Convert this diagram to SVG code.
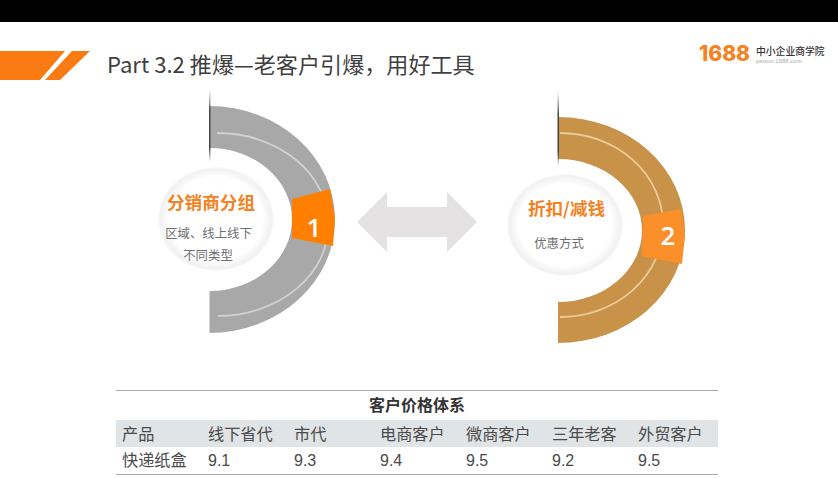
<svg xmlns="http://www.w3.org/2000/svg" width="838" height="478" viewBox="0 0 838 478">
<style>
.cjk{font-family:"Noto Sans CJK SC","Noto Sans",sans-serif}
.head{font-size:17.6px;font-weight:700;fill:#f5821f;text-anchor:middle}
.sub{font-size:12.4px;fill:#6f6e72;text-anchor:middle}
.num{font-family:"Open Sans",sans-serif;font-size:26px;font-weight:600;fill:#fff;text-anchor:middle}
.cell{font-size:16.2px;fill:#4a4a4a}
.val{font-family:"Liberation Sans",sans-serif;font-size:16px;fill:#4a4a4a}
.rule{stroke:#a9a9a9;stroke-width:1.2}
.soft{filter:url(#soft)}
</style>
<defs>
<filter id="soft" x="-5%" y="-5%" width="110%" height="110%"><feGaussianBlur stdDeviation="0.5"/></filter>
<radialGradient id="disc"><stop offset="0.8" stop-color="#fff"/><stop offset="0.96" stop-color="#f1f0f2"/><stop offset="1" stop-color="#f3f2f4" stop-opacity="0.3"/></radialGradient>
<linearGradient id="edge" x1="0" y1="0" x2="0" y2="1"><stop offset="0" stop-color="#555" stop-opacity="0"/><stop offset="0.3" stop-color="#444"/><stop offset="0.8" stop-color="#444"/><stop offset="1" stop-color="#555" stop-opacity="0"/></linearGradient>
</defs>
<rect width="838" height="478" fill="#fff"/>
<rect width="838" height="22" fill="#000"/>
<g id="header">
<polygon points="0,51 65,51 40,80 0,80" fill="#f97b12"/>
<polygon points="72,51 90,51 60,80 45,80" fill="#f97b12"/>
<text class="cjk" x="107" y="73" font-size="22.1" fill="#3f3f3f">Part 3.2 推爆—老客户引爆，用好工具</text>
</g>
<g id="logo">
<text x="699" y="61" font-family="Inter,sans-serif" font-size="21" font-weight="800" fill="#f58220">1688</text>
<text class="cjk" x="756" y="55" font-size="9.8" font-weight="500" fill="#333">中小企业商学院</text>
<text x="756" y="63" font-family="Liberation Sans,sans-serif" font-size="6" fill="#aaa">peixun.1688.com</text>
</g>
<g id="node-1">
<g class="soft">
<path d="M209.500 106A125.500 113.500 0 0 1 209.500 333L209.500 291A82.500 71.500 0 0 0 209.500 148Z" fill="#a9a8a9"/>
<path d="M217 133A111 91.500 0 0 1 218 316" fill="none" stroke="#d2d1d2" stroke-width="1.800"/>
<polygon points="292,199 330,189 335,218 333,246 292,238" fill="#ff8000"/>
<rect x="209" y="90" width="1.500" height="72" fill="url(#edge)"/>
<ellipse cx="216" cy="219" rx="58" ry="52" fill="url(#disc)"/>
</g>
<text class="cjk head" x="211" y="209">分销商分组</text>
<text class="cjk sub" x="208.500" y="238">区域、线上线下</text>
<text class="cjk sub" x="208" y="260">不同类型</text>
<text class="num" x="314" y="237">1</text>
</g>
<g id="node-2">
<g class="soft">
<path d="M558 117A127 113 0 0 1 558 343L558 302A84 71.500 0 0 0 558 159Z" fill="#c8924a"/>
<path d="M560 133A103 92 0 0 1 560 317" fill="none" stroke="#eccb9b" stroke-width="1.800"/>
<polygon points="643,216 681,209 685,235 682,264 642,256" fill="#fb8f2a"/>
<rect x="557.500" y="92" width="1.500" height="74" fill="url(#edge)"/>
<ellipse cx="565" cy="225" rx="58" ry="51" fill="url(#disc)"/>
</g>
<text class="cjk head" x="566.500" y="215">折扣/减钱</text>
<text class="cjk sub" x="559" y="248">优惠方式</text>
<text class="num" x="668" y="245">2</text>
</g>
<g id="connectors">
<polygon class="soft" points="357,222 387,192 387,207 447,207 447,192 477,222 447,252 447,237 387,237 387,252" fill="#e4e2e2"/>
</g>
<g id="table">
<rect x="116" y="420" width="602" height="27" fill="#e0e4e6"/>
<line class="rule" x1="116" y1="390.500" x2="718" y2="390.500"/>
<line class="rule" x1="116" y1="474.500" x2="718" y2="474.500"/>
<text class="cjk" x="417" y="411" font-size="16" font-weight="700" fill="#333" text-anchor="middle">客户价格体系</text>
<text class="cjk cell" x="122" y="440">产品</text>
<text class="cjk cell" x="208" y="440">线下省代</text>
<text class="cjk cell" x="294" y="440">市代</text>
<text class="cjk cell" x="380" y="440">电商客户</text>
<text class="cjk cell" x="466" y="440">微商客户</text>
<text class="cjk cell" x="552" y="440">三年老客</text>
<text class="cjk cell" x="638" y="440">外贸客户</text>
<text class="cjk cell" x="122" y="466">快递纸盒</text>
<text class="val" x="208" y="466">9.1</text>
<text class="val" x="294" y="466">9.3</text>
<text class="val" x="380" y="466">9.4</text>
<text class="val" x="466" y="466">9.5</text>
<text class="val" x="552" y="466">9.2</text>
<text class="val" x="638" y="466">9.5</text>
</g>
</svg>
